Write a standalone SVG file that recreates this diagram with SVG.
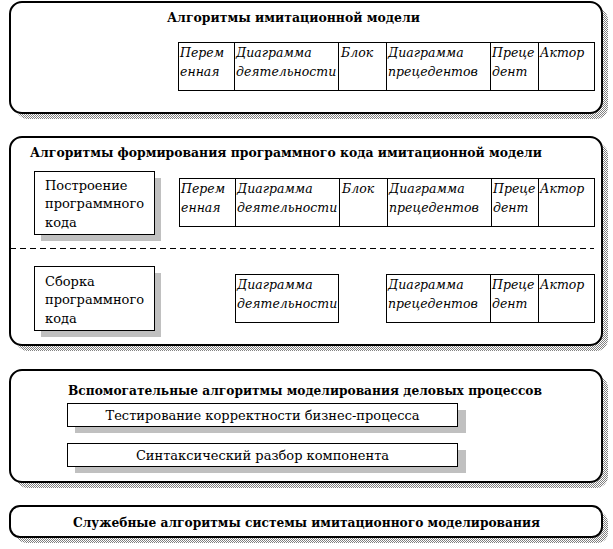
<svg xmlns="http://www.w3.org/2000/svg" width="613" height="549" viewBox="0 0 613 549">
<defs>
<pattern id="dither" width="2" height="2" patternUnits="userSpaceOnUse">
<rect width="2" height="2" fill="#ffffff"/>
<rect x="0" y="0" width="1" height="1" fill="#808080"/>
<rect x="1" y="1" width="1" height="1" fill="#808080"/>
</pattern>
</defs>
<style>
.outer{fill:#fff;stroke:#000;stroke-width:2}
.oshadow{fill:url(#dither)}
.title{font-family:"DejaVu Serif","Liberation Serif",serif;font-weight:bold;font-size:12.5px;fill:#000}
.cell{fill:#fff;stroke:#000;stroke-width:1}
.it{font-family:"DejaVu Serif","Liberation Serif",serif;font-style:italic;font-size:12.5px;fill:#000}
.box{fill:#fff;stroke:#000;stroke-width:1}
.bshadow{fill:#c0c0c0}
.reg{font-family:"DejaVu Serif","Liberation Serif",serif;font-size:13px;fill:#000}
.dash{stroke:#000;stroke-width:1;stroke-dasharray:6,4;fill:none}
</style>

<g id="panel1">
<rect class="oshadow" x="16" y="8" width="592" height="111" rx="12"/>
<rect class="outer" x="10" y="2" width="592" height="111" rx="12"/>
<text class="title" x="167" y="22" textLength="253" lengthAdjust="spacingAndGlyphs">Алгоритмы имитационной модели</text>
<g id="table1">
<rect class="cell" x="178.5" y="42.5" width="416" height="48"/>
<line class="cell" x1="234.5" y1="42.5" x2="234.5" y2="90.5"/>
<line class="cell" x1="338.5" y1="42.5" x2="338.5" y2="90.5"/>
<line class="cell" x1="386.5" y1="42.5" x2="386.5" y2="90.5"/>
<line class="cell" x1="490.5" y1="42.5" x2="490.5" y2="90.5"/>
<line class="cell" x1="538.5" y1="42.5" x2="538.5" y2="90.5"/>
<text class="it" x="180" y="57">Перем</text>
<text class="it" x="180" y="76">енная</text>
<text class="it" x="236" y="57">Диаграмма</text>
<text class="it" x="236" y="76">деятельности</text>
<text class="it" x="341" y="57">Блок</text>
<text class="it" x="388" y="57">Диаграмма</text>
<text class="it" x="388" y="76">прецедентов</text>
<text class="it" x="492" y="57">Преце</text>
<text class="it" x="492" y="76">дент</text>
<text class="it" x="540" y="57">Актор</text>
</g>
</g>

<g id="panel2">
<rect class="oshadow" x="16" y="143" width="592" height="208" rx="12"/>
<rect class="outer" x="10" y="137" width="592" height="208" rx="12"/>
<text class="title" x="30" y="157" textLength="512" lengthAdjust="spacingAndGlyphs">Алгоритмы формирования программного кода имитационной модели</text>
<g id="build">
<rect class="bshadow" x="41" y="178" width="120" height="63"/>
<rect class="box" x="34.5" y="171.5" width="120" height="63"/>
<text class="reg" x="45" y="190">Построение</text>
<text class="reg" x="45" y="208">программного</text>
<text class="reg" x="45" y="227">кода</text>
</g>
<g id="table2">
<rect class="cell" x="179.5" y="178.5" width="415" height="48"/>
<line class="cell" x1="235.5" y1="178.5" x2="235.5" y2="226.5"/>
<line class="cell" x1="339.5" y1="178.5" x2="339.5" y2="226.5"/>
<line class="cell" x1="387.5" y1="178.5" x2="387.5" y2="226.5"/>
<line class="cell" x1="491.5" y1="178.5" x2="491.5" y2="226.5"/>
<line class="cell" x1="538.5" y1="178.5" x2="538.5" y2="226.5"/>
<text class="it" x="181" y="193">Перем</text>
<text class="it" x="181" y="212">енная</text>
<text class="it" x="237" y="193">Диаграмма</text>
<text class="it" x="237" y="212">деятельности</text>
<text class="it" x="342" y="193">Блок</text>
<text class="it" x="389" y="193">Диаграмма</text>
<text class="it" x="389" y="212">прецедентов</text>
<text class="it" x="493" y="193">Преце</text>
<text class="it" x="493" y="212">дент</text>
<text class="it" x="540" y="193">Актор</text>
</g>
<g id="assemble">
<rect class="bshadow" x="41" y="273" width="120" height="64"/>
<rect class="box" x="34.5" y="266.5" width="120" height="64"/>
<text class="reg" x="45" y="286">Сборка</text>
<text class="reg" x="45" y="304">программного</text>
<text class="reg" x="45" y="323">кода</text>
</g>
<g id="table3">
<rect class="cell" x="235.5" y="274.5" width="103" height="48"/>
<text class="it" x="237" y="289">Диаграмма</text>
<text class="it" x="237" y="308">деятельности</text>
<rect class="cell" x="386.5" y="274.5" width="208" height="48"/>
<line class="cell" x1="490.5" y1="274.5" x2="490.5" y2="322.5"/>
<line class="cell" x1="538.5" y1="274.5" x2="538.5" y2="322.5"/>
<text class="it" x="388" y="289">Диаграмма</text>
<text class="it" x="388" y="308">прецедентов</text>
<text class="it" x="492" y="289">Преце</text>
<text class="it" x="492" y="308">дент</text>
<text class="it" x="540" y="289">Актор</text>
</g>
</g>

<g id="connectors">
<line class="dash" x1="10" y1="248.5" x2="594" y2="248.5"/>
</g>

<g id="panel3">
<rect class="oshadow" x="16" y="376" width="592" height="112" rx="12"/>
<rect class="outer" x="10" y="370" width="592" height="112" rx="12"/>
<text class="title" x="68" y="395" textLength="474" lengthAdjust="spacingAndGlyphs">Вспомогательные алгоритмы моделирования деловых процессов</text>
<g id="testing">
<rect class="bshadow" x="75" y="410" width="391" height="23"/>
<rect class="box" x="67.5" y="403.5" width="390" height="23"/>
<text class="reg" x="262.5" y="420" text-anchor="middle">Тестирование корректности бизнес-процесса</text>
</g>
<g id="parsing">
<rect class="bshadow" x="75" y="450" width="391" height="23"/>
<rect class="box" x="67.5" y="443.5" width="390" height="23"/>
<text class="reg" x="262.5" y="460" text-anchor="middle">Синтаксический разбор компонента</text>
</g>
</g>

<g id="panel4">
<rect class="oshadow" x="16" y="512" width="592" height="31" rx="10"/>
<rect class="outer" x="10" y="506" width="592" height="31" rx="10"/>
<text class="title" x="73" y="527" textLength="467" lengthAdjust="spacingAndGlyphs">Служебные алгоритмы системы имитационного моделирования</text>
</g>
</svg>
